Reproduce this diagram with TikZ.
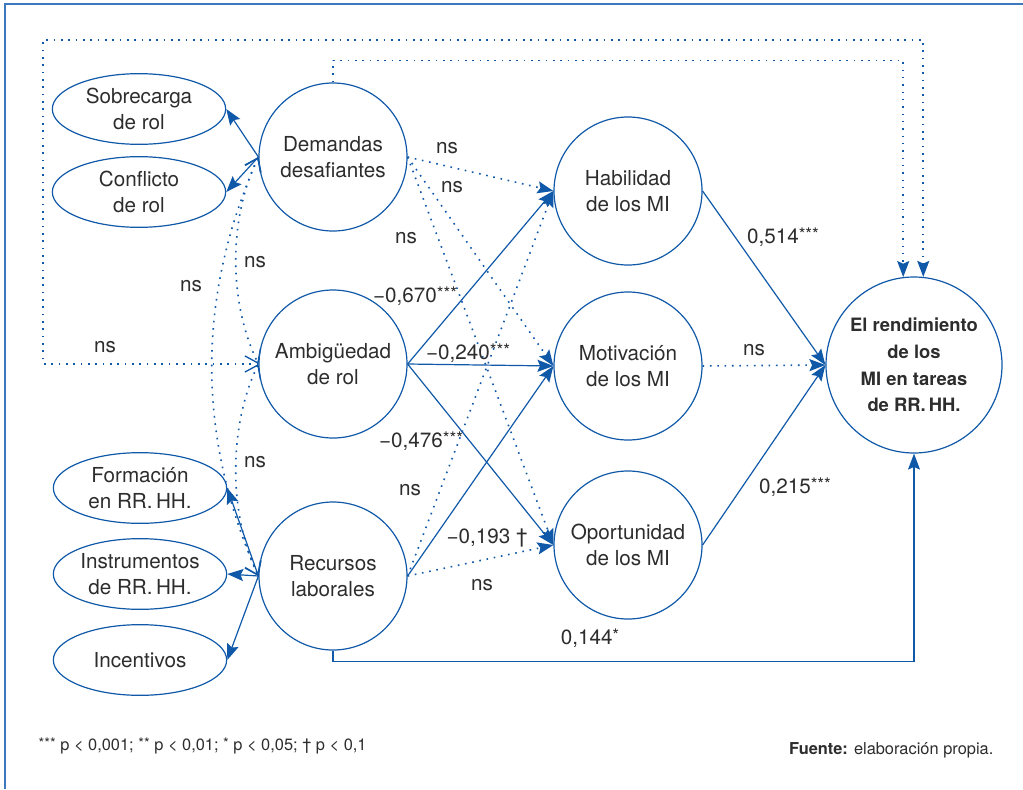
\documentclass[tikz,border=0pt]{standalone}
\usepackage{fontspec}
\setmainfont{TeX Gyre Heros}
\usepackage{tikz}
\usetikzlibrary{arrows.meta}
\usetikzlibrary{shapes.geometric,positioning}
\definecolor{pathblue}{RGB}{16,88,168}
\definecolor{frameblue}{RGB}{60,120,190}
\definecolor{txtgray}{RGB}{45,45,45}
\newcommand{\sig}[1]{\raisebox{0.12em}{\fontsize{13}{13}\selectfont #1}}
\newcommand{\fsig}[1]{\raisebox{0.1em}{\fontsize{11}{11}\selectfont #1}}

\begin{document}
\begin{tikzpicture}[x=0.75pt,y=-0.75pt]
  \tikzset{latent/.style = {shape=circle,draw=pathblue,line width=0.9pt,minimum size=111pt,inner sep=1pt,align=center,text=txtgray,font=\fontsize{15.5}{20}\selectfont}}
    \tikzset{outcome/.style = {latent,minimum size=132pt,font=\fontsize{13.8}{20}\selectfont\bfseries}}
        \tikzset{indic/.style = {shape=ellipse,draw=pathblue,line width=0.9pt,minimum width=130pt,minimum height=53pt,inner sep=0pt,align=center,text=txtgray,font=\fontsize{15.5}{20}\selectfont}}
    \tikzset{coef/.style = {text=txtgray,inner sep=1pt,font=\fontsize{15.5}{18}\selectfont}}
  \tikzset{effect/.style = {pathblue,line width=0.9pt,-tipA}}
  \tikzset{nseffect/.style = {effect,line width=1.2pt,dash pattern=on 1.2pt off 4.3pt}}
  \tikzset{cov/.style = {pathblue,line width=1.2pt,dash pattern=on 1.2pt off 4.3pt,tipB-tipB}}
  \tikzset{%
  tipA/.tip={Stealth[length=12pt,width=9pt,inset=2pt]},
  tipB/.tip={Straight Barb[length=9pt,width=13pt,line width=1pt]},
}

	\useasboundingbox (0,0) rectangle (1023,789);
	\draw[frameblue,line width=1.5pt] (5,789) -- (5,4) -- (1023,4);

	\node[latent] (Dem) at (333,157) {Demandas\\desafiantes};
	\node[latent] (Amb) at (333,364) {Ambigüedad\\de rol};
	\node[latent] (Rec) at (333,576) {Recursos\\laborales};

	\node[latent] (Hab) at (628,191) {Habilidad\\de los MI};
	\node[latent] (Mot) at (628,366) {Motivación\\de los MI};
	\node[latent] (Opp) at (628,545) {Oportunidad\\de los MI};

	\node[outcome] (Rend) at (914,365) {El rendimiento\\de los\\MI en tareas\\de RR.\,HH.};

	\node[indic] (Sob) at (139,109) {Sobrecarga\\de rol};
	\node[indic] (Con) at (139,192) {Conflicto\\de rol};
	\node[indic] (For) at (140,488) {Formación\\en RR.\,HH.};
	\node[indic] (Ins) at (140,574) {Instrumentos\\de RR.\,HH.};
	\node[indic] (Inc) at (140,660) {Incentivos};

    \foreach \from/\to in {Dem/Sob, Dem/Con, Rec/For, Rec/Ins, Rec/Inc}
    \path[effect](\from.west) edge (\to.east);

    \foreach \from/\to in {Amb/Hab, Amb/Mot, Amb/Opp, Rec/Mot, Hab/Rend, Opp/Rend}
    \path[effect](\from.east) edge (\to.west);

    \foreach \from/\to in {Dem/Hab, Dem/Mot, Dem/Opp, Rec/Hab, Rec/Opp, Mot/Rend}
    \path[nseffect](\from.east) edge (\to.west);

	% correlaciones
	\draw[cov] (Dem.west) .. controls +(-30,62) and +(-30,-62) .. (Amb.west);
	\draw[cov] (Dem.west) .. controls +(-62,140) and +(-62,-140) .. (Rec.west);
	\draw[cov] (Amb.west) .. controls +(-30,62) and +(-30,-62) .. (Rec.west);

	% efectos directos
	\draw[nseffect] (Amb.west) -| (43,40) -| (Rend.84);
	\draw[nseffect] (Dem.north) -- ++(0,-22) -| (Rend.97);
	\draw[effect] (Rec.south) -- ++(0,11) -| (Rend.south);

	\node[coef] (c1) at (447,148) {ns};
	\node[coef] (c2) at (452,187) {ns};
	\node[coef] (c3) at (406,238) {ns};
	\node[coef] (c4) at (415,296) {−0,670\sig{***}};
	\node[coef] (c5) at (468,353) {−0,240\sig{***}};
	\node[coef] (c6) at (421,441) {−0,476\sig{***}};
	\node[coef] (c7) at (410,490) {ns};
	\node[coef] (c8) at (487,538) {−0,193 †};
	\node[coef] (c9) at (482,585) {ns};
	\node[coef] (c10) at (783,237) {0,514\sig{***}};
	\node[coef] (c11) at (754,350) {ns};
	\node[coef] (c12) at (795,487) {0,215\sig{***}};
	\node[coef] (c13) at (590,638) {0,144\sig{*}};
	\node[coef] (c14) at (255,262) {ns};
	\node[coef] (c15) at (191,286) {ns};
	\node[coef] (c16) at (255,462) {ns};
	\node[coef] (c17) at (105,347) {ns};

	\node[anchor=west,text=txtgray,font=\fontsize{12.3}{14}\selectfont] (nota) at (34,746) {\fsig{***} p < 0,001; \fsig{**} p < 0,01; \fsig{*} p < 0,05; † p < 0,1};
	\node[anchor=east,text=txtgray,font=\fontsize{12.3}{14}\selectfont] (fuente) at (998,750) {\textbf{Fuente:} elaboración propia.};

\end{tikzpicture}
\end{document}
